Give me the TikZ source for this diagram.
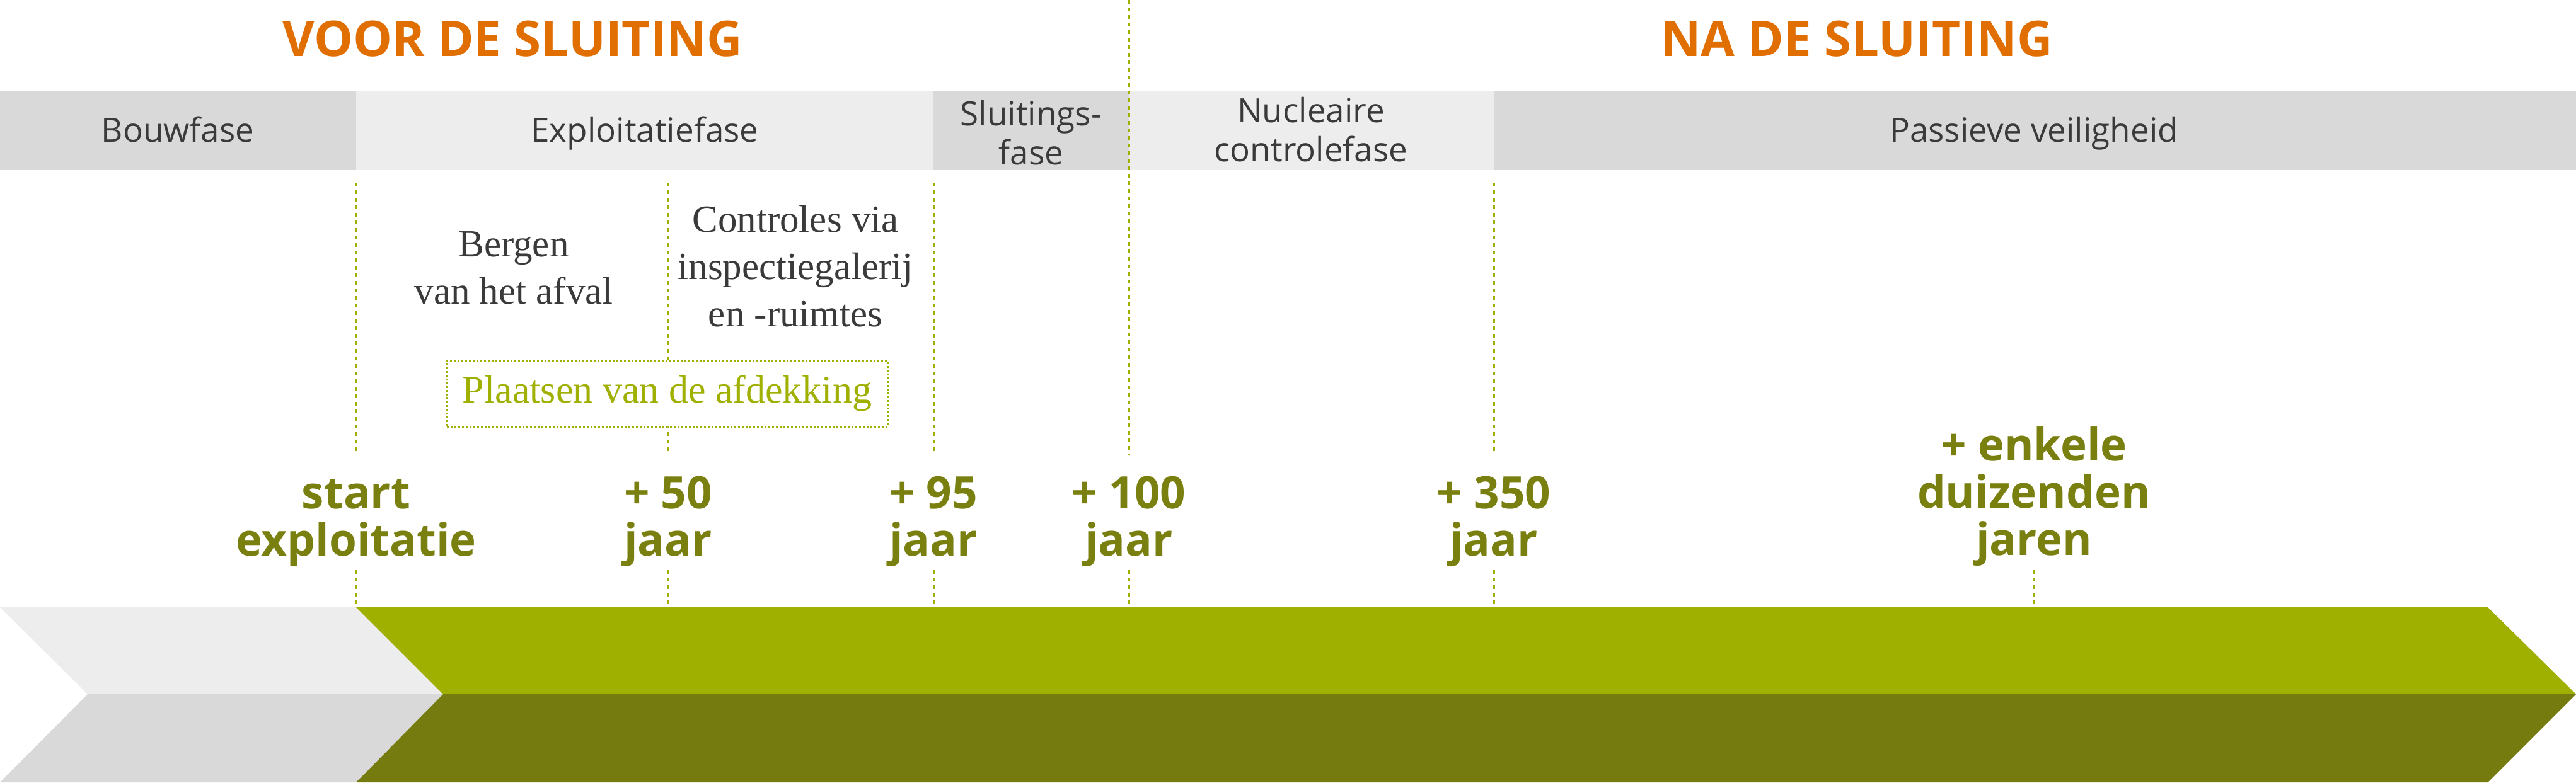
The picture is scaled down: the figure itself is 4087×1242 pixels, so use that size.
\documentclass[tikz,border=0pt]{standalone}
\usepackage{fontspec}
\setmainfont{Liberation Serif}
\newfontfamily\osans{Open Sans}
\definecolor{limeg}{RGB}{160,176,0}
\definecolor{oliveg}{RGB}{117,123,14}
\definecolor{miletxt}{RGB}{122,128,16}
\definecolor{orangeT}{RGB}{224,110,0}
\definecolor{grayL}{RGB}{237,237,237}
\definecolor{grayD}{RGB}{217,217,217}
\definecolor{txtgray}{RGB}{58,58,58}
\begin{document}
\begin{tikzpicture}[x=1pt,y=-1pt,
  phase/.style={font=\osans\fontsize{53}{62}\selectfont, text=txtgray, align=center, anchor=base, inner sep=0pt},
  mile/.style={font=\osans\bfseries\fontsize{71}{75}\selectfont, text=miletxt, align=center, anchor=base, inner sep=0pt},
  desc/.style={font=\fontsize{61}{75}\selectfont, text=txtgray, align=center, anchor=base, inner sep=0pt},
  titletxt/.style={font=\osans\bfseries\fontsize{78}{80}\selectfont, text=orangeT, anchor=base, inner sep=0pt},
  guide/.style={draw=limeg, line width=3pt, dash pattern=on 6pt off 6pt},
  coverbox/.style={draw=limeg, line width=3pt, dash pattern=on 3pt off 3pt, fill=white, text=limeg,
    font=\fontsize{62}{70}\selectfont, inner sep=0pt, minimum width=699pt, minimum height=104pt,
    text height=42pt, text depth=14pt},
]
\useasboundingbox (0,0) rectangle (4087,1242);
\fill[white] (0,0) rectangle (4087,1242);

% phase band
\fill[grayD] (0,144) rectangle (565,270);
\fill[grayL] (565,144) rectangle (1481,270);
\fill[grayD] (1481,144) rectangle (1791,270);
\fill[grayL] (1791,144) rectangle (2370,270);
\fill[grayD] (2370,144) rectangle (4087,270);

% titles
\node[titletxt] (voor) at (813,89) {VOOR DE SLUITING};
\node[titletxt] (na) at (2946,89) {NA DE SLUITING};

% phase labels (base = baseline of last line)
\node[phase] (bouw) at (282,225) {Bouwfase};
\node[phase] (expl) at (1023,225) {Exploitatiefase};
\node[phase] (sluit) at (1636,261) {Sluitings-\\fase};
\node[phase] (nucl) at (2080,256) {Nucleaire\\controlefase};
\node[phase] (pass) at (3227,225) {Passieve veiligheid};

% guide coordinates
\coordinate (a1) at (565,290);  \coordinate (a2) at (565,723);
\coordinate (a3) at (565,905);  \coordinate (a4) at (565,962);
\coordinate (b1) at (1060,290); \coordinate (b2) at (1060,723);
\coordinate (b3) at (1060,905); \coordinate (b4) at (1060,962);
\coordinate (c1) at (1481,290); \coordinate (c2) at (1481,723);
\coordinate (c3) at (1481,905); \coordinate (c4) at (1481,962);
\coordinate (d1) at (1791,0);   \coordinate (d2) at (1791,723);
\coordinate (d3) at (1791,905); \coordinate (d4) at (1791,962);
\coordinate (e1) at (2370,290); \coordinate (e2) at (2370,723);
\coordinate (e3) at (2370,905); \coordinate (e4) at (2370,962);
\coordinate (f3) at (3227,905); \coordinate (f4) at (3227,962);

\draw[guide] (a1) -- (a2); \draw[guide] (a3) -- (a4);
\draw[guide] (b1) -- (b2); \draw[guide] (b3) -- (b4);
\draw[guide] (c1) -- (c2); \draw[guide] (c3) -- (c4);
\draw[guide] (d1) -- (d2); \draw[guide] (d3) -- (d4);
\draw[guide] (e1) -- (e2); \draw[guide] (e3) -- (e4);
\draw[guide] (f3) -- (f4);

% descriptions
\node[desc] (bergen) at (815,482) {Bergen\\van het afval};
\node[desc] (contr) at (1262,518) {Controles via\\inspectiegalerij\\en -ruimtes};
\node[coverbox] (cover) at (1058.5,625) {Plaatsen van de afdekking};

% milestones
\node[mile] (m0) at (565,882) {start\\exploitatie};
\node[mile] (m50) at (1060,882) {+ 50\\jaar};
\node[mile] (m95) at (1481,882) {+ 95\\jaar};
\node[mile] (m100) at (1791,882) {+ 100\\jaar};
\node[mile] (m350) at (2370,882) {+ 350\\jaar};
\node[mile] (mk) at (3227,881) {+ enkele\\duizenden\\jaren};

% arrow
\fill[grayL] (0,964) -- (565,964) -- (703,1102) -- (139,1102) -- cycle;
\fill[grayD] (139,1102) -- (703,1102) -- (565,1242) -- (0,1242) -- cycle;
\fill[limeg] (565,964) -- (3947,964) -- (4087,1102) -- (703,1102) -- cycle;
\fill[oliveg] (703,1102) -- (4087,1102) -- (3947,1242) -- (565,1242) -- cycle;
\end{tikzpicture}
\end{document}
